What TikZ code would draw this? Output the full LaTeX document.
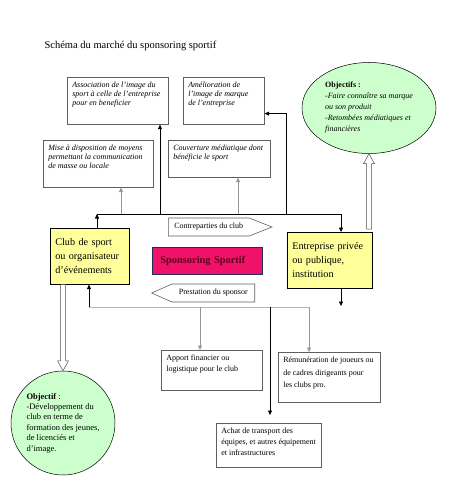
\documentclass[tikz,border=0pt]{standalone}
\usepackage{fontspec}
\setmainfont{Liberation Serif}
\usepackage{xcolor}
\usepackage{tikz}
\usetikzlibrary{
  arrows.meta,
  calc,
  positioning,
  shapes.geometric,
  shapes.symbols
}
\definecolor{clubyellow}{RGB}{255,255,153}
\definecolor{objgreen}{RGB}{204,255,204}
\definecolor{sponspink}{RGB}{240,18,104}
\definecolor{sponsnavy}{RGB}{35,45,95}
\definecolor{sponsink}{RGB}{95,0,30}
\definecolor{wiregray}{RGB}{150,150,150}
\definecolor{framegray}{RGB}{95,95,95}
\newcommand\cadre[3]{\parbox[t][#2][t]{#1}{\raggedright #3}}
\tikzset{
  effet/.style={draw=framegray,line width=0.6pt,fill=white,anchor=north west,
    inner sep=5pt,font=\fontsize{8}{9}\selectfont\itshape},
  moyen/.style={draw=framegray,line width=0.6pt,fill=white,anchor=north west,
    inner sep=5pt,font=\fontsize{8}{11}\selectfont},
  acteur/.style={draw=black,line width=0.6pt,fill=clubyellow,anchor=north west,
    inner xsep=5pt,align=left,font=\fontsize{10.2}{13.8}\selectfont},
  flux/.style={signal,draw=framegray,line width=0.6pt,fill=white,
    minimum height=18pt,inner xsep=6pt,font=\fontsize{8}{9}\selectfont},
  objectif/.style={draw=black,line width=0.5pt,fill=objgreen,inner sep=0pt,align=left},
  fleche/.style={-{Triangle[length=4.5pt,width=4pt]},line width=0.6pt,draw=black},
  grisfleche/.style={fleche,draw=wiregray},
  fil/.style={line width=0.6pt,draw=black},
  grisfil/.style={line width=0.5pt,draw=wiregray!70},
  creux/.style={draw=black!70,line width=0.5pt,fill=white}
}
\begin{document}
\begin{tikzpicture}[x=1pt,y=-1pt]
  \useasboundingbox (0,0) rectangle (453,494);
  \node[anchor=west,font=\fontsize{10.5}{12}\selectfont] (titre) at (41,46)
    {Schéma du marché du sponsoring sportif};
  % effets sur l'image
  \node[effet] (assoc) at (67,77) {\cadre{91pt}{37pt}{Association de l'image du\\
    sport à celle de l'entreprise\\ pour en beneficier}};
  \node[effet] (amelio) at (183,77) {\cadre{71pt}{37pt}{Amélioration de\\
    l'image de marque\\ de l'entreprise}};
  \node[effet] (moyens) at (43,140) {\cadre{100pt}{37pt}{Mise à disposition de moyens\\
    permettant la communication\\ de masse ou locale}};
  \node[effet] (couv) at (168,140) {\cadre{92pt}{27pt}{Couverture médiatique dont\\
    bénéficie le sport}};
  \node[objectif,ellipse,minimum width=134pt,minimum height=91pt] (objent) at (369,108)
    {{\fontsize{8}{11.7}\selectfont\bfseries Objectifs :}\\[-1pt]
     {\fontsize{8}{11.7}\selectfont\itshape -Faire connaître sa marque}\\[-1pt]
     {\fontsize{8}{11.7}\selectfont\itshape ou son produit}\\[-1pt]
     {\fontsize{8}{11.7}\selectfont\itshape -Retombées médiatiques et}\\[-1pt]
     {\fontsize{8}{11.7}\selectfont\itshape financières}};
  % acteurs
  \node[acteur,text width=69pt,minimum height=56pt,inner xsep=5pt] (club) at (50,228)
    {Club de sport\\ ou organisateur\\ d'événements};
  \node[draw=sponsnavy,line width=0.7pt,fill=sponspink,anchor=north west,
    text width=94pt,inner xsep=8pt,minimum height=27pt,align=left,
    font=\fontsize{10.4}{12}\selectfont\bfseries,text=sponsink] (spons) at (152,247)
    {Sponsoring Sportif};
  \node[acteur,text width=75pt,minimum height=56pt] (entreprise) at (287,232)
    {Entreprise privée\\ ou publique,\\ institution};
  \node[flux,signal to=east,signal pointer angle=43,anchor=west,
    minimum width=102pt] (contre) at (168,227) {Contreparties du club};
  \node[flux,signal to=west,signal pointer angle=48,anchor=east,
    minimum width=103pt] (presta) at (255,293) {Prestation du sponsor};
  % moyens apportes
  \node[moyen] (apport) at (161,350) {\cadre{91pt}{30pt}{Apport financier ou\\
    logistique pour le club}};
  \node[moyen,font=\fontsize{8}{12.3}\selectfont] (remun) at (278,352)
    {\cadre{92pt}{40pt}{Rémunération de joueurs ou\\ de cadres dirigeants pour\\
    les clubs pro.}};
  \node[moyen] (achat) at (216,423) {\cadre{95pt}{34pt}{Achat de transport des\\
    équipes, et autres équipement\\ et infrastructures}};
  \node[objectif,circle,minimum size=104pt,font=\fontsize{8.5}{10.4}\selectfont]
    (objclub) at (63,423)
    {\textbf{Objectif} :\\ -Développement du\\ club en terme de\\
     formation des jeunes,\\ de licenciés et\\ d'image.};
  % bus du haut
  \coordinate (busL) at (97,214);
  \coordinate (busR) at (341,214);
  \coordinate (b1) at (121,214);
  \coordinate (b2) at (160,214);
  \coordinate (b3) at (238,214);
  \coordinate (b4) at (286,214);
  \draw[fleche] (busL |- club.north) -- (busL);
  \draw[fil] (busL) -- (busR);
  \draw[fleche] (busR) -- (busR |- entreprise.north);
  \draw[grisfleche] (b1) -- (b1 |- moyens.south);
  \draw[fleche] (b2) -- (b2 |- assoc.south);
  \draw[grisfleche] (b3) -- (b3 |- couv.south);
  \draw[fleche] (b4) |- ($(amelio.south east)+(0,-11)$);
  % bus du bas
  \coordinate (bus2L) at (89,307);
  \coordinate (bus2R) at (309,307);
  \coordinate (c1) at (200,307);
  \coordinate (c2) at (270,307);
  \coordinate (entbas) at (341,306);
  \draw[grisfil] (bus2L) -- (bus2R);
  \draw[fleche] (bus2L) -- (bus2L |- club.south);
  \draw[grisfleche] (c1) -- (c1 |- apport.north);
  \draw[fleche,shorten >=8pt] (c2) -- (c2 |- achat.north);
  \draw[grisfleche] (bus2R) -- (bus2R |- remun.north);
  \draw[fleche] (busR |- entreprise.south) -- (entbas);
  % fleches creuses vers les objectifs
  \coordinate (h1) at (entreprise.north -| objent.south);
  \draw[creux] ($(h1)+(-2.5,-3)$) -- ($(objent.south)+(-2.5,10)$)
    -- ($(objent.south)+(-5.5,10)$) -- (objent.south)
    -- ($(objent.south)+(5.5,10)$) -- ($(objent.south)+(2.5,10)$)
    -- ($(h1)+(2.5,-3)$) -- cycle;
  \coordinate (h2) at (club.south -| objclub.north);
  \draw[creux] ($(h2)+(-2.5,0)$) -- ($(objclub.north)+(-2.5,-10)$)
    -- ($(objclub.north)+(-5.5,-10)$) -- (objclub.north)
    -- ($(objclub.north)+(5.5,-10)$) -- ($(objclub.north)+(2.5,-10)$)
    -- ($(h2)+(2.5,0)$) -- cycle;
\end{tikzpicture}
\end{document}
